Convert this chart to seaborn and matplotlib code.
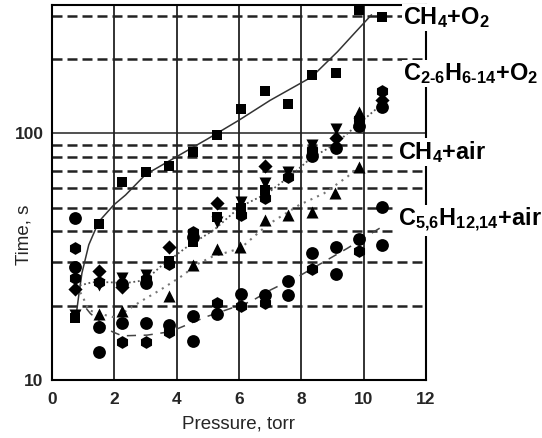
import numpy as np
import pandas as pd
import matplotlib
matplotlib.use("Agg")
import matplotlib.pyplot as plt
import seaborn as sns
from matplotlib.ticker import FixedLocator, NullFormatter

sns.set_style("white")
plt.rcParams['font.family'] = ['Liberation Sans', 'DejaVu Sans']
plt.rcParams['mathtext.fontset'] = 'custom'
plt.rcParams['mathtext.rm'] = 'Liberation Sans:bold'
plt.rcParams['mathtext.bf'] = 'Liberation Sans:bold'
plt.rcParams['mathtext.default'] = 'bf'

# ---------------- data ----------------
# CH4 + O2 (squares)
ch4_o2_p = [0.75, 1.5, 2.26, 3.02, 3.75, 4.53, 5.31, 6.05, 6.83, 7.56, 8.33, 9.11, 9.86, 10.59]
ch4_o2_t = [17.8, 42.9, 63.7, 69.5, 73.9, 83.7, 98.2, 125.5, 148, 132, 172, 175, 316, 295]

# C2-6 H6-14 + O2 (several hydrocarbons, several marker shapes)
c26_o2_p = [0.75, 0.75, 0.75, 0.75, 0.75,
            1.5, 1.5, 1.5,
            2.26, 2.26, 2.26,
            3.0, 3.0, 3.0,
            3.75, 3.75, 3.75,
            4.53, 4.53, 4.53,
            5.3, 5.3, 5.3,
            6.05, 6.05, 6.05,
            6.83, 6.83, 6.83, 6.83,
            7.56, 7.56,
            8.33, 8.33, 8.33,
            9.1, 9.1, 9.1,
            9.86, 9.86, 9.86,
            10.6, 10.6, 10.6]
c26_o2_t = [34.2, 28.8, 25.8, 23.3, 18.4,
            27.7, 25.0, 24.2,
            25.8, 24.4, 23.8,
            26.6, 25.6, 24.7,
            34.7, 30.4, 29.5,
            39.9, 38.1, 36.4,
            52.0, 45.9, 43.8,
            52.8, 49.7, 46.6,
            73.7, 62.7, 58.9, 54.5,
            69.9, 66.7,
            89.7, 85.6, 80.9,
            104, 95.4, 87.5,
            122, 114, 107,
            148, 137, 128]
c26_o2_shape = ['h', 'o', 'h', 'D', 'v',
                'D', 'h', 'v',
                'v', 'o', 'D',
                'v', 'h', 'o',
                'D', 's', 'h',
                'h', 'o', 's',
                'D', 's', 'v',
                'v', 's', 'h',
                'D', 'v', 's', 'h',
                'v', 'h',
                'v', 'h', 'o',
                'v', 'D', 'o',
                '^', 'h', 'o',
                'h', 'D', 'o']

# CH4 + air (triangles)
ch4_air_p = [1.5, 2.26, 3.77, 4.53, 5.3, 6.04, 6.84, 7.56, 8.33, 9.08, 9.86]
ch4_air_t = [18.6, 19.0, 22.0, 29.3, 34.0, 34.7, 44.5, 46.6, 48.1, 57.1, 73.2]

# C5,6 H12,14 + air (circles / hexagons)
c56_air_p = [0.75, 1.5, 1.5, 2.26, 2.26, 3.0, 3.0, 3.75, 3.75, 4.53, 4.53,
             5.3, 5.3, 6.05, 6.05, 6.83, 6.83, 7.58, 7.58, 8.33, 8.33,
             9.1, 9.1, 9.86, 9.86, 10.6, 10.6]
c56_air_t = [45.3, 16.4, 13.0, 17.0, 14.2, 17.1, 14.2, 16.7, 15.7, 18.2, 14.4,
             20.5, 18.6, 22.3, 20.0, 22.1, 20.5, 25.2, 22.2, 32.8, 28.2,
             34.7, 26.9, 37.2, 33.4, 50.1, 35.2]
c56_air_shape = ['o', 'o', 'o', 'o', 'h', 'o', 'h', 'o', 'h', 'o', 'o',
                 'h', 'o', 'o', 'h', 'o', 'h', 'o', 'o', 'o', 'h',
                 'o', 'o', 'o', 'h', 'o', 'o']

# fitted trend curves
ch4_o2_fit_p = [0.78, 0.86, 0.96, 1.18, 1.5, 1.98, 2.36, 3.0, 4.0, 5.0, 6.0, 7.0, 8.33, 9.16, 9.7, 10.25]
ch4_o2_fit_t = [18.5, 22.1, 27.1, 35.3, 43.8, 51.2, 56.2, 68.0, 80.4, 95.0, 113, 136, 169, 214, 254, 302]

c26_o2_fit_p = [0.75, 1.29, 1.82, 2.36, 3.0, 3.48, 3.91, 4.34, 5.2, 6.05, 6.91, 7.75, 8.3, 9.05, 9.86, 10.61]
c26_o2_fit_t = [23.9, 24.9, 24.9, 24.7, 25.4, 28.8, 31.6, 34.7, 40.6, 50.5, 57.1, 68.8, 79.2, 89.7, 109.7, 132]

ch4_air_fit_p = [0.78, 0.96, 1.18, 1.5, 2.04, 2.84, 3.48, 4.13, 4.71, 5.14, 6.05, 6.91, 7.93, 8.73, 9.48, 9.97]
ch4_air_fit_t = [24.0, 22.1, 19.2, 18.6, 17.9, 20.8, 23.2, 26.2, 29.7, 31.6, 34.2, 42.5, 51.2, 57.1, 66.7, 75.6]

c56_air_fit_p = [1.1, 1.23, 1.93, 2.25, 3.05, 3.8, 4.98, 6.38, 7.02, 7.98, 9.48, 10.72]
c56_air_fit_t = [19.5, 18.6, 15.7, 15.1, 15.2, 15.7, 18.1, 20.8, 23.2, 26.6, 34.2, 42.8]

x_ticks = [0, 2, 4, 6, 8, 10, 12]
y_ticks = [10, 100]
y_minor = [20, 30, 40, 50, 60, 70, 80, 90, 200, 300]

labels = [r"CH$_4$+O$_2$", r"C$_{2\text{-}6}$H$_{6\text{-}14}$+O$_2$", r"CH$_4$+air",
          r"C$_{5{,}6}$H$_{12{,}14}$+air"]

# ---------------- figure ----------------
W, H = 542, 438
fig = plt.figure(figsize=(W / 100, H / 100), dpi=100)
ax = fig.add_axes([52 / W, 1 - 380 / H, (426 - 52) / W, (380 - 5) / H])

# curves
sns.lineplot(x=ch4_o2_fit_p, y=ch4_o2_fit_t, sort=False, estimator=None, ax=ax,
             color="#333333", lw=1.1, linestyle="-", zorder=3)
sns.lineplot(x=c26_o2_fit_p, y=c26_o2_fit_t, sort=False, estimator=None, ax=ax,
             color="#555555", lw=1.3, linestyle=(0, (1, 1.5)), zorder=3)
sns.lineplot(x=ch4_air_fit_p, y=ch4_air_fit_t, sort=False, estimator=None, ax=ax,
             color="#777777", lw=1.5, linestyle=(0, (1, 2.5)), zorder=3)
sns.lineplot(x=c56_air_fit_p, y=c56_air_fit_t, sort=False, estimator=None, ax=ax,
             color="#444444", lw=1.1, linestyle=(0, (6, 5)), zorder=3)

# points
df = pd.concat([
    pd.DataFrame({"p": ch4_o2_p, "t": ch4_o2_t, "shape": ["s"] * len(ch4_o2_p)}),
    pd.DataFrame({"p": c26_o2_p, "t": c26_o2_t, "shape": c26_o2_shape}),
    pd.DataFrame({"p": ch4_air_p, "t": ch4_air_t, "shape": ["^"] * len(ch4_air_p)}),
    pd.DataFrame({"p": c56_air_p, "t": c56_air_t, "shape": c56_air_shape}),
], ignore_index=True)
size_map = {"s": 58, "o": 85, "h": 85, "D": 52, "v": 75, "^": 75}
for shp, sub in df.groupby("shape"):
    sns.scatterplot(data=sub, x="p", y="t", marker=shp, color="black", s=size_map[shp],
                    edgecolor="black", linewidth=0, ax=ax, legend=False, zorder=4)

# axes
ax.set_yscale("log")
ax.set_xlim(0, 12)
ax.set_ylim(10, 331)
ax.xaxis.set_major_locator(FixedLocator(x_ticks))
ax.set_xticklabels([str(v) for v in x_ticks])
ax.yaxis.set_major_locator(FixedLocator(y_ticks))
ax.yaxis.set_minor_locator(FixedLocator(y_minor))
ax.yaxis.set_minor_formatter(NullFormatter())
ax.set_yticklabels([str(v) for v in y_ticks])
ax.tick_params(which="both", length=0)
ax.tick_params(axis="x", pad=9, labelsize=12.5)
ax.tick_params(axis="y", pad=6, labelsize=12.5)
for lab in ax.get_xticklabels() + ax.get_yticklabels():
    lab.set_fontweight("bold")

ax.grid(False)
ax.xaxis.grid(True, which="major", color="#222222", lw=1.3, ls="-")
ax.yaxis.grid(True, which="major", color="#222222", lw=1.1, ls="-")
ax.yaxis.grid(True, which="minor", color="#222222", lw=1.8, ls=(0, (4, 2)))
ax.set_axisbelow(True)
for sp in ax.spines.values():
    sp.set_color("black")
    sp.set_linewidth(1.5)
    sp.set_visible(True)

ax.set_xlabel("Pressure, torr", fontsize=13.5, labelpad=6)
ax.set_ylabel("Time, s", fontsize=13.5)
ax.yaxis.label.set_verticalalignment("center")
ax.yaxis.set_label_coords((24 - 52) / (426 - 52), (380 - 235) / (380 - 5))

# series labels
label_pos = [(403, 24), (403, 80), (398, 159), (398, 226)]
for txt, (px, py) in zip(labels, label_pos):
    fig.text(px / W, 1 - py / H, txt, ha="left", va="baseline", fontsize=16.9,
             fontweight="bold", color="black", zorder=10,
             bbox=dict(facecolor="white", edgecolor="none", pad=1.0))

fig.savefig("out.png", dpi=100)
